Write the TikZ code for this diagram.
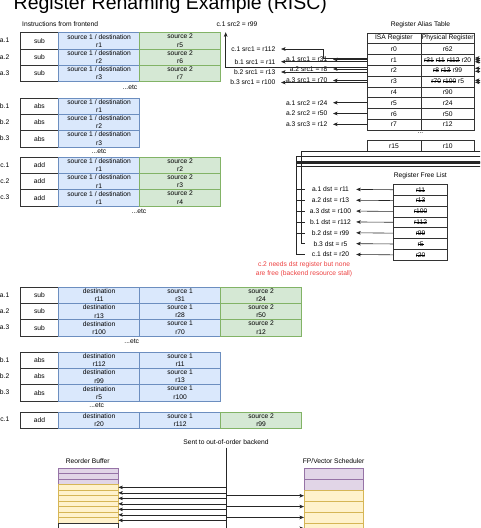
\documentclass[tikz,border=0pt]{standalone}
\usepackage{fontspec}
\setmainfont{Liberation Sans}
\usepackage{xcolor}
\usetikzlibrary{arrows.meta,calc}
\definecolor{cellblue}{HTML}{DAE8FC}
\definecolor{lineblue}{HTML}{6C8EBF}
\definecolor{cellgreen}{HTML}{D5E8D4}
\definecolor{linegreen}{HTML}{82B366}
\definecolor{cellpurple}{HTML}{E1D5E7}
\definecolor{linepurple}{HTML}{9673A6}
\definecolor{cellyellow}{HTML}{FFF2CC}
\definecolor{lineyellow}{HTML}{D6B656}
\definecolor{stallred}{RGB}{236,64,64}
\newcommand\strk[1]{\setbox0\hbox{#1}\rlap{\rule[0.3em]{\wd0}{0.5pt}}\box0\relax}

\begin{document}
\begin{tikzpicture}[x=1pt,y=-1pt,font=\fontsize{6.7}{8.3}\selectfont,
  cell/.style={draw=black!80,line width=0.6pt,minimum height=16.3pt,inner sep=0pt,align=center,anchor=north west},
  opcell/.style={cell,fill=white,minimum width=38.3pt},
  bluecell/.style={cell,fill=cellblue,draw=lineblue,minimum width=81pt},
  greencell/.style={cell,fill=cellgreen,draw=linegreen,minimum width=81pt},
  ratcell/.style={draw=black!80,line width=0.6pt,minimum width=53.8pt,minimum height=10.8pt,inner sep=0pt,anchor=north west},
  freecell/.style={ratcell,minimum width=54pt,minimum height=10.85pt},
  robcell/.style={draw=black!80,line width=0.6pt,minimum width=60pt,minimum height=5.5pt,inner sep=0pt,anchor=north west},
  schcell/.style={robcell,minimum width=59.3pt,minimum height=10.85pt},
  tag/.style={anchor=east,inner sep=0pt},
  srclbl/.style={anchor=east,inner xsep=5.5pt,inner ysep=1pt},
  dstlbl/.style={minimum width=51pt,inner sep=0pt},
  wire/.style={line width=0.6pt,draw=black!85},
  arr/.style={wire,-{Stealth[length=4.5pt,width=3.6pt,inset=1pt]}}]
\useasboundingbox (0,0) rectangle (480,528);
\clip (0,0) rectangle (480,528);

\node[anchor=base west,inner sep=0pt,font=\fontsize{19.5}{20}\selectfont] (title) at (13.5,9.5) {Register Renaming Example (RISC)};
\node[anchor=west,inner sep=0pt] (feT) at (22,24.5) {Instructions from frontend};

\foreach \g/\r/\y/\op/\d/\s in {a/1/32.3/sub/r1/r5,a/2/48.6/sub/r2/r6,a/3/64.9/sub/r3/r7,
  c/1/156.7/add/r1/r2,c/2/173/add/r1/r3,c/3/189.3/add/r1/r4}{
  \node[tag] (ft\g\r) at (9.5,\y+8.15) {\g.\r};
  \node[opcell] (fo\g\r) at (20,\y) {\op};
  \node[bluecell] (fd\g\r) at (58.3,\y) {source 1 / destination\\\d};
  \node[greencell] (fs\g\r) at (139.3,\y) {source 2\\\s};
}
\foreach \r/\y in {1/97.6,2/113.9,3/130.2}{
  \node[tag] (ftb\r) at (9.5,\y+8.15) {b.\r};
  \node[opcell] (fob\r) at (20,\y) {abs};
  \node[bluecell] (fdb\r) at (58.3,\y) {source 1 / destination\\r\r};
}
\node (etcA) at (130,87) {...etc};
\node (etcB) at (99,151.7) {...etc};
\node (etcC) at (139,211.7) {...etc};

\node (ratT) at (420.5,25) {Register Alias Table};
\node[ratcell] (isaH) at (366.7,32.5) {ISA Register};
\node[ratcell] (phyH) at (420.5,32.5) {Physical Register};
\foreach \i/\p in {0/r62,1/{\strk{r31} \strk{r11} \strk{r112} r20},2/{\strk{r8} \strk{r13} r99},
  3/{\strk{r70} \strk{r100} r5},4/r90,5/r24,6/r50,7/r12}{
  \node[ratcell] (isa\i) at (366.7,43.3+10.8*\i) {r\i};
  \node[ratcell] (phy\i) at (420.5,43.3+10.8*\i) {\p};
}
\node (ratdots) at (420.5,133) {...};
\node[ratcell] (isa15) at (366.7,140.2) {r15};
\node[ratcell] (phy15) at (420.5,140.2) {r10};

\foreach \n/\i/\x/\y/\t in {sa1/1/333/59.5/a.1 src1 = r31,sa2/2/333/69/a.2 src1 = r8,sa3/3/333/80.5/a.3 src1 = r70,
  sa4/5/333/102.7/a.1 src2 = r24,sa5/6/333/113.5/a.2 src2 = r50,sa6/7/333/124.3/a.3 src3 = r12,
  sb1/1/281/61.7/b.1 src1 = r11,sb2/2/281/72/b.2 src1 = r13,sb3/3/281/82.5/b.3 src1 = r100}{
  \node[srclbl] (\n) at (\x,\y) {\t};
  \draw[arr] (isa\i.west |- \n.east) -- (\n.east);
}
\node[srclbl] (sc1) at (281,49) {c.1 src1 = r112};
\draw[arr] ([yshift=1.8pt]isa1.west) -- ++(-43.4,0) |- (sc1.east);
\node (sc2) at (237,24.3) {c.1 src2 = r99};
\draw[arr] ([yshift=3.6pt]isa2.west) -| ([xshift=-11.3pt,yshift=-2pt]sc2.south);

\node (flT) at (420.3,175.7) {Register Free List};
\foreach \i/\p/\nm in {1/r11/a.1,2/r13/a.2,3/r100/a.3,4/r112/b.1,5/r99/b.2,6/r5/b.3,7/r20/c.1}{
  \node[freecell] (fl\i) at (393.3,184+10.85*\i-10.85) {\strk{\p}};
  \node[dstlbl] (dl\i) at (330.5,189.4+10.85*\i-10.85) {\nm\ dst = \p};
  \draw[arr] (fl\i.west) -- (dl\i.east);
}
\foreach \i/\r/\lx/\ly/\s in {1/1/296/166.7/1.8,4/1/296/162/0,7/1/296/156.7/-2,
  2/2/296/162/2.3,5/2/296/161/-0.7,3/3/296/163/1.1,6/3/301.7/151.7/-0.9}{
  \draw[arr] (dl\i.west) -| (\lx,\ly) -- (492,\ly) |- ([yshift=\s pt]phy\r.east);
}
\node[text=stallred,align=center] (stall) at (304,269.3) {c.2 needs dst register but none\\are free (backend resource stall)};

\foreach \g/\r/\y/\op/\d/\s/\t in {a/1/286.7/sub/r11/r31/r24,a/2/303/sub/r13/r28/r50,a/3/319.3/sub/r100/r70/r12,
  c/1/411.5/add/r20/r112/r99}{
  \node[tag] (rt\g\r) at (9.5,\y+8.15) {\g.\r};
  \node[opcell] (ro\g\r) at (20,\y) {\op};
  \node[bluecell] (rd\g\r) at (58.3,\y) {destination\\\d};
  \node[bluecell] (rs\g\r) at (139.3,\y) {source 1\\\s};
  \node[greencell] (rq\g\r) at (220.3,\y) {source 2\\\t};
}
\foreach \r/\y/\d/\s in {1/351.7/r112/r11,2/368/r99/r13,3/384.3/r5/r100}{
  \node[tag] (rtb\r) at (9.5,\y+8.15) {b.\r};
  \node[opcell] (rob\r) at (20,\y) {abs};
  \node[bluecell] (rdb\r) at (58.3,\y) {destination\\\d};
  \node[bluecell] (rsb\r) at (139.3,\y) {source 1\\\s};
}
\node (etcD) at (131.7,341.7) {...etc};
\node (etcE) at (96.7,405) {...etc};

\node (sent) at (226,441.7) {Sent to out-of-order backend};
\coordinate (sentEnd) at (226,540);
\draw[wire] (sent.south) -- (sentEnd);

\node (robT) at (87.7,460.7) {Reorder Buffer};
\foreach \i in {1,2,3}
  \node[robcell,fill=cellpurple,draw=linepurple] (robp\i) at (57.7,467.5+5.6*\i-5.6) {};
\foreach \i in {1,...,7}{
  \node[robcell,fill=cellyellow,draw=lineyellow] (roby\i) at (57.7,484.3+5.5*\i-5.5) {};
}
\node[robcell] (robw) at (57.7,522.8) {};
\foreach \i in {1,...,7}
  \draw[arr] (roby\i.east -| sent.south) -- (roby\i.east);

\node (schT) at (333.6,460.7) {FP/Vector Scheduler};
\foreach \i in {1,2}
  \node[schcell,fill=cellpurple,draw=linepurple] (schp\i) at (304,468.3+10.85*\i-10.85) {};
\foreach \i in {1,...,4}
  \node[schcell,fill=cellyellow,draw=lineyellow] (schy\i) at (304,490+10.85*\i-10.85) {};
\foreach \i in {1,...,4}
  \draw[arr] (schy\i.west -| sent.south) -- (schy\i.west);
\end{tikzpicture}
\end{document}
